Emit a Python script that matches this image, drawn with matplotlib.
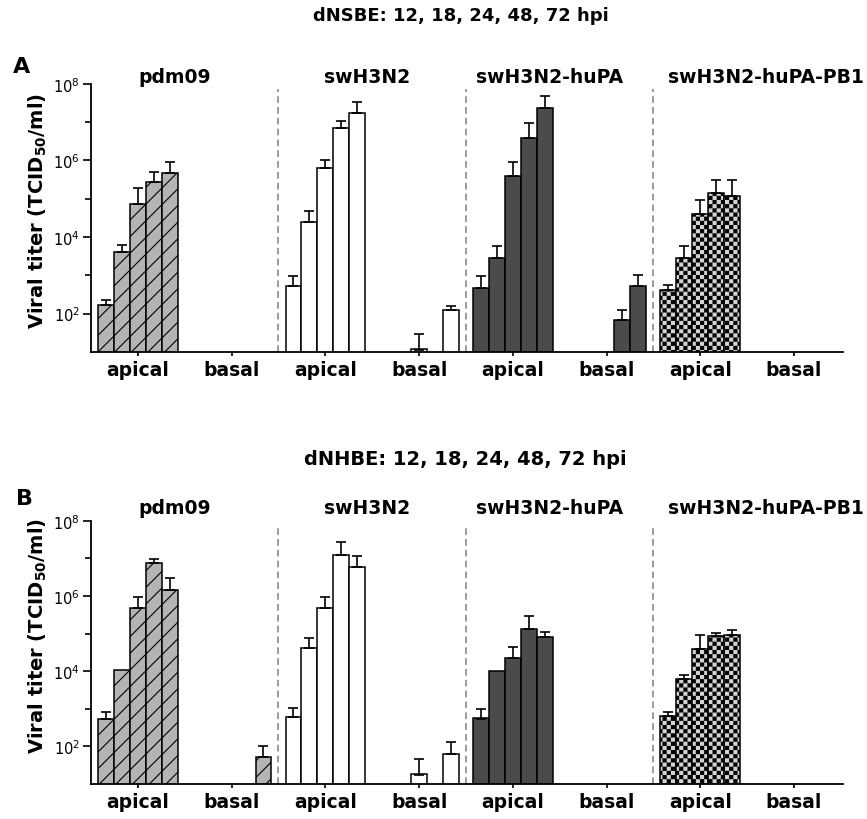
import numpy as np
import matplotlib
matplotlib.use("Agg")
import matplotlib.pyplot as plt
import matplotlib.hatch as mhatch
from matplotlib.path import Path
from matplotlib.ticker import FixedLocator, FuncFormatter, NullFormatter

nan = np.nan

# ---------------- data ----------------
viruses = ["pdm09", "swH3N2", "swH3N2-huPA", "swH3N2-huPA-PB1"]
compartments = ["apical", "basal"]
timepoints_hpi = [12, 18, 24, 48, 72]
group_labels = [c for v in viruses for c in compartments]

# Panel A: dNSBE  (rows: pdm09 apical, pdm09 basal, swH3N2 apical, swH3N2 basal,
#                  huPA apical, huPA basal, huPA-PB1 apical, huPA-PB1 basal)
A_mean = [
    [165, 4000, 7.5e4, 2.8e5, 4.6e5],
    [nan, nan, nan, nan, nan],
    [520, 2.4e4, 6.2e5, 7.2e6, 1.7e7],
    [nan, nan, 11, nan, 120],
    [470, 2.9e3, 3.9e5, 3.8e6, 2.3e7],
    [nan, nan, nan, 66, 525],
    [400, 2.9e3, 4.0e4, 1.4e5, 1.2e5],
    [nan, nan, nan, nan, nan],
]
A_upper = [
    [224, 6000, 1.9e5, 5.0e5, 9.3e5],
    [nan, nan, nan, nan, nan],
    [930, 4.7e4, 1.0e6, 1.05e7, 3.3e7],
    [nan, nan, 30, nan, 160],
    [930, 5.9e3, 9.1e5, 9.3e6, 4.7e7],
    [nan, nan, nan, 120, 1000],
    [560, 5.9e3, 9.1e4, 3.0e5, 3.0e5],
    [nan, nan, nan, nan, nan],
]

# Panel B: dNHBE
B_mean = [
    [530, 1.05e4, 4.8e5, 7.6e6, 1.4e6],
    [nan, nan, nan, nan, 51],
    [620, 4.2e4, 4.8e5, 1.2e7, 6.0e6],
    [nan, nan, 17, nan, 63],
    [550, 1.0e4, 2.2e4, 1.3e5, 8.1e4],
    [nan, nan, nan, nan, nan],
    [650, 6.3e3, 3.9e4, 8.7e4, 9.3e4],
    [nan, nan, nan, nan, nan],
]
B_upper = [
    [830, 1.05e4, 9.3e5, 9.3e6, 3.0e6],
    [nan, nan, nan, nan, 105],
    [1070, 7.6e4, 9.3e5, 2.75e7, 1.15e7],
    [nan, nan, 46, nan, 130],
    [1000, 1.0e4, 4.5e4, 3.0e5, 1.07e5],
    [nan, nan, nan, nan, nan],
    [830, 7.9e3, 9.3e4, 1.05e5, 1.26e5],
    [nan, nan, nan, nan, nan],
]

header_A = "dNSBE: 12, 18, 24, 48, 72 hpi"
header_B = "dNHBE: 12, 18, 24, 48, 72 hpi"


# ---------------- custom checkerboard hatch (replaces 'O') ----------------
class CheckerHatch(mhatch.HatchPatternBase):
    def __init__(self, hatch, density):
        self.n = 24 * hatch.count("O")
        self.num_vertices = (self.n * self.n // 2) * 5 if self.n else 0

    def set_vertices_and_codes(self, vertices, codes):
        n = self.n
        cell = 1.0 / n
        s = cell * 0.74
        off = (cell - s) / 2
        idx = 0
        for i in range(n):
            for j in range(n):
                if (i + j) % 2:
                    continue
                x0 = i * cell + off
                y0 = j * cell + off
                vertices[idx:idx + 5] = [[x0, y0], [x0 + s, y0], [x0 + s, y0 + s],
                                         [x0, y0 + s], [x0, y0]]
                codes[idx:idx + 5] = [Path.MOVETO, Path.LINETO, Path.LINETO,
                                      Path.LINETO, Path.CLOSEPOLY]
                idx += 5


mhatch._hatch_types = [t for t in mhatch._hatch_types
                       if t is not mhatch.LargeCircles] + [CheckerHatch]

# ---------------- style ----------------
plt.rcParams["font.family"] = ["DejaVu Sans"]
plt.rcParams["hatch.linewidth"] = 0.8
plt.rcParams["hatch.color"] = "black"

styles = [
    dict(facecolor="#b4b4b4", hatch="//"),
    dict(facecolor="white", hatch=None),
    dict(facecolor="#4b4b4b", hatch=None),
    dict(facecolor="#d4d4d4", hatch="O"),
]

bw = 0.17
offsets = (np.arange(5) - 2) * bw
title_x = [0.39, 2.44, 4.39, 6.70]

fig = plt.figure(figsize=(8.67, 8.2), dpi=100)
axA = fig.add_axes([0.105, 0.5698, 0.8670, 0.3266])
axB = fig.add_axes([0.105, 0.0427, 0.8670, 0.3211])


def draw_panel(ax, means, uppers):
    for g in range(len(group_labels)):
        st = styles[g // 2]
        m = np.array(means[g], dtype=float)
        u = np.array(uppers[g], dtype=float)
        ok = ~np.isnan(m)
        if not ok.any():
            continue
        xs = g + offsets[ok]
        ax.bar(xs, m[ok], width=bw, bottom=1, facecolor=st["facecolor"],
               edgecolor="black", linewidth=1.1, hatch=st["hatch"], zorder=2)
        err_ok = ok & (u > m * 1.01)
        if err_ok.any():
            mm = m[err_ok]
            up = u[err_ok] - mm
            ax.errorbar(g + offsets[err_ok], mm, yerr=[np.zeros_like(mm), up],
                        fmt="none", ecolor="black", elinewidth=1.2,
                        capsize=3.3, capthick=1.2, zorder=3)
    ax.set_yscale("log")
    ax.set_ylim(10, 1e8)
    ax.set_xlim(-0.50, 7.52)
    ax.vlines([1.5, 3.5, 5.5], 10, 10 ** 7.86, colors="#8a8a8a",
              linestyles=(0, (4, 2.5)), linewidth=1.2, zorder=1)
    ax.yaxis.set_major_locator(FixedLocator([1e2, 1e4, 1e6, 1e8]))
    ax.yaxis.set_minor_locator(FixedLocator([1e3, 1e5, 1e7]))
    ax.yaxis.set_major_formatter(
        FuncFormatter(lambda v, p: r"$10^{%d}$" % int(round(np.log10(v)))))
    ax.yaxis.set_minor_formatter(NullFormatter())
    ax.set_xticks(range(len(group_labels)))
    ax.set_xticklabels(group_labels, fontsize=13.5, fontweight="bold")
    ax.tick_params(axis="y", which="major", length=6, width=1.2, labelsize=10.5,
                   pad=2)
    ax.tick_params(axis="y", which="minor", length=4, width=1.2)
    ax.tick_params(axis="x", length=3, width=1.2, pad=3)
    for s in ["top", "right"]:
        ax.spines[s].set_visible(False)
    for s in ["left", "bottom"]:
        ax.spines[s].set_linewidth(1.3)
    for name, tx in zip(viruses, title_x):
        ax.text(tx, 1.0, name, transform=ax.get_xaxis_transform(),
                ha="center", va="baseline", fontsize=13.5, fontweight="bold")


draw_panel(axA, A_mean, A_upper)
draw_panel(axB, B_mean, B_upper)

# shift titles to the measured baselines
for t in axA.texts:
    t.set_y(1.0 + (85 - 83) / 267.7)
for t in axB.texts:
    t.set_y(1.0 + (522 - 514) / 263.3)

fig.text(0.531, 0.9748, header_A, ha="center", va="baseline", fontsize=13,
         fontweight="bold")
fig.text(0.537, 0.4329, header_B, ha="center", va="baseline", fontsize=14,
         fontweight="bold")
fig.text(0.015, 0.911, "A", ha="left", va="baseline", fontsize=16,
         fontweight="bold")
fig.text(0.018, 0.384, "B", ha="left", va="baseline", fontsize=16,
         fontweight="bold")
ylabel = r"Viral titer (TCID$_{\mathbf{50}}$/ml)"
fig.text(0.044, 0.7427, ylabel, rotation=90, ha="center", va="center",
         fontsize=14, fontweight="bold")
fig.text(0.044, 0.2250, ylabel, rotation=90, ha="center", va="center",
         fontsize=14, fontweight="bold")

fig.savefig("out.png", dpi=100)
